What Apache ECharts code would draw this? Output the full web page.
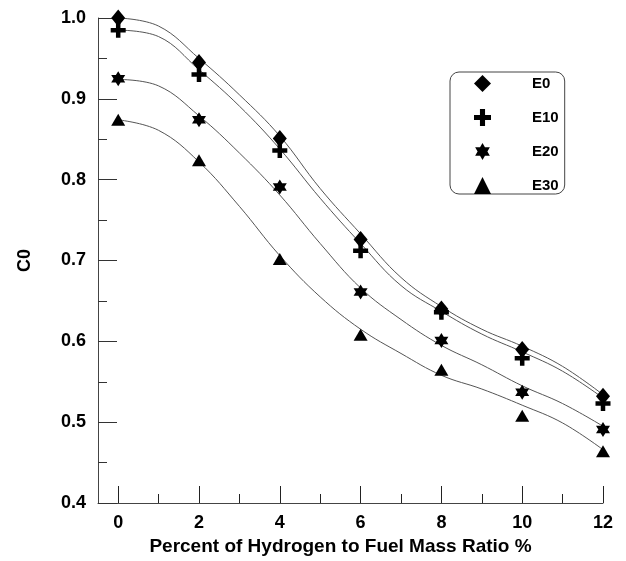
<!DOCTYPE html>
<html>
<head>
<meta charset="utf-8">
<script src="https://cdn.jsdelivr.net/npm/echarts@6/dist/echarts.min.js"></script>
<style>
html,body{margin:0;padding:0;background:#fff;}
#chart{width:626px;height:561px;}
</style>
</head>
<body>
<div id="chart"></div>
<script>
// Measured points
const xPoints = [0, 2, 4, 6, 8, 10, 12];
const e0  = [1.000, 0.945, 0.851, 0.726, 0.640, 0.590, 0.532];
const e10 = [0.985, 0.930, 0.836, 0.712, 0.636, 0.579, 0.523];
const e20 = [0.925, 0.874, 0.791, 0.661, 0.601, 0.537, 0.491];
const e30 = [0.874, 0.824, 0.702, 0.608, 0.565, 0.508, 0.464];

// Fitted curves at integer x
const xFit = [0, 1, 2, 3, 4, 5, 6, 7, 8, 9, 10, 11, 12];
const e0Fit  = [1.000, 0.990, 0.950, 0.905, 0.854, 0.789, 0.733, 0.679, 0.643, 0.615, 0.594, 0.569, 0.534];
const e10Fit = [0.985, 0.977, 0.936, 0.891, 0.838, 0.777, 0.721, 0.669, 0.637, 0.609, 0.587, 0.563, 0.530];
const e20Fit = [0.924, 0.916, 0.879, 0.833, 0.781, 0.721, 0.666, 0.627, 0.595, 0.571, 0.545, 0.523, 0.495];
const e30Fit = [0.874, 0.861, 0.822, 0.767, 0.706, 0.655, 0.615, 0.585, 0.558, 0.541, 0.521, 0.499, 0.466];

const seriesNames = ['E0', 'E10', 'E20', 'E30'];
const xMajorTicks = [0, 2, 4, 6, 8, 10, 12];
const xMinorTicks = [1, 3, 5, 7, 9, 11];
const xTitle = 'Percent of Hydrogen to Fuel Mass Ratio %';
const yTitle = 'C0';

const pointSets = [e0, e10, e20, e30];
const fitSets = [e0Fit, e10Fit, e20Fit, e30Fit];

const hexagram = 'path://M50,0 L64.43,25 L93.3,25 L78.87,50 L93.3,75 L64.43,75 L50,100 L35.57,75 L6.7,75 L21.13,50 L6.7,25 L35.57,25 Z';
const plus = 'path://M35,0 H65 V35 H100 V65 H65 V100 H35 V65 H0 V35 H35 Z';
const symbols = ['diamond', plus, hexagram, 'triangle'];
const sizes = [[14, 17], [15, 15], [14, 15], [14, 12]];

const FONT = 'Liberation Sans, Arial, sans-serif';
const axisColor = '#444';

const chart = echarts.init(document.getElementById('chart'), null, {renderer: 'canvas'});

const series = [];
fitSets.forEach((fit, i) => {
  series.push({
    name: seriesNames[i] + ' fit',
    type: 'line',
    data: xFit.map((x, k) => [x, fit[k]]),
    smooth: 0.4,
    showSymbol: false,
    symbol: 'none',
    lineStyle: {color: '#555', width: 1},
    z: 2,
    silent: true
  });
});
pointSets.forEach((pts, i) => {
  series.push({
    name: seriesNames[i],
    type: 'scatter',
    data: xPoints.map((x, k) => [x, pts[k]]),
    symbol: symbols[i],
    symbolSize: sizes[i],
    itemStyle: {color: '#000', opacity: 1},
    z: 5
  });
});

chart.setOption({
  animation: false,
  backgroundColor: '#fff',
  grid: {left: 98, right: 23, top: 18, bottom: 58, containLabel: false, outerBoundsMode: 'none'},
  legend: {
    data: seriesNames,
    orient: 'vertical',
    left: 450,
    top: 72,
    padding: [3, 6, 0, 24],
    itemWidth: 17,
    itemHeight: 17,
    itemGap: 17,
    borderColor: '#444',
    borderWidth: 1,
    borderRadius: 9,
    backgroundColor: '#fff',
    textStyle: {fontFamily: FONT, fontWeight: 'bold', fontSize: 15, color: '#000', padding: [0, 0, 0, 36]},
    itemStyle: {color: '#000'}
  },
  xAxis: [{
    type: 'value',
    min: -0.5,
    max: 12,
    position: 'bottom',
    splitLine: {show: false},
    axisLine: {show: true, onZero: false, lineStyle: {color: axisColor, width: 1}},
    axisTick: {show: true, inside: true, length: 17, customValues: xMajorTicks, lineStyle: {color: '#222', width: 1}},
    axisLabel: {customValues: xMajorTicks, margin: 11, fontFamily: FONT, fontWeight: 'bold', fontSize: 18, color: '#000'},
    name: xTitle,
    nameLocation: 'middle',
    nameGap: 31,
    nameTextStyle: {fontFamily: FONT, fontWeight: 'bold', fontSize: 19, color: '#000', padding: [0, 20, 0, 0]}
  }, {
    type: 'value',
    min: -0.5,
    max: 12,
    position: 'bottom',
    splitLine: {show: false},
    axisLine: {show: false},
    axisTick: {show: true, inside: true, length: 9, customValues: xMinorTicks, lineStyle: {color: '#222', width: 1}},
    axisLabel: {show: false}
  }],
  yAxis: {
    type: 'value',
    min: 0.4,
    max: 1.0,
    interval: 0.1,
    splitLine: {show: false},
    axisLine: {show: true, onZero: false, lineStyle: {color: axisColor, width: 1}},
    axisTick: {show: true, inside: true, length: 19, lineStyle: {color: '#333', width: 1}},
    minorTick: {show: true, splitNumber: 2, length: 9, lineStyle: {color: '#333', width: 1}},
    axisLabel: {margin: 12, fontFamily: FONT, fontWeight: 'bold', fontSize: 18, color: '#000', formatter: v => v.toFixed(1)},
    name: yTitle,
    nameLocation: 'middle',
    nameGap: 64,
    nameTextStyle: {fontFamily: FONT, fontWeight: 'bold', fontSize: 18, color: '#000'}
  },
  series: series
});
</script>
</body>
</html>
